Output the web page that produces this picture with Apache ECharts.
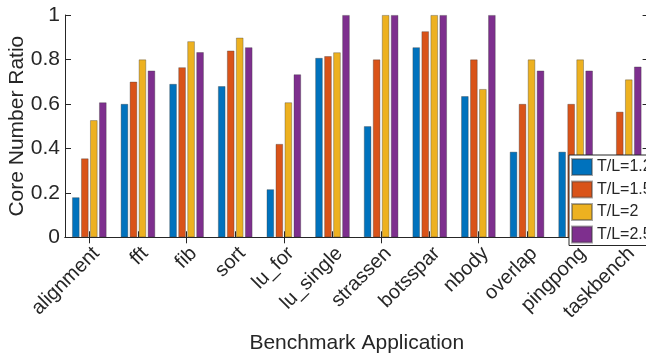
<!DOCTYPE html>
<html>
<head>
<meta charset="utf-8">
<script src="https://cdn.jsdelivr.net/npm/echarts@6/dist/echarts.min.js"></script>
<style>
html,body{margin:0;padding:0;background:#fff;}
#chart{width:646px;height:355px;}
</style>
</head>
<body>
<div id="chart"></div>
<script>
var categories = ['alignment','fft','fib','sort','lu_for','lu_single','strassen','botsspar','nbody','overlap','pingpong','taskbench'];
var seriesNames = ['T/L=1.2','T/L=1.5','T/L=2','T/L=2.5'];
var tl12 = [0.18,0.60,0.69,0.68,0.216,0.807,0.50,0.855,0.635,0.385,0.385,0.33];
var tl15 = [0.355,0.70,0.765,0.84,0.42,0.815,0.80,0.927,0.80,0.60,0.60,0.565];
var tl2  = [0.527,0.80,0.882,0.898,0.607,0.832,1,1,0.667,0.80,0.80,0.71];
var tl25 = [0.607,0.75,0.833,0.855,0.733,1,1,1,1,0.75,0.75,0.768];
var yTicks = [0,0.2,0.4,0.6,0.8,1];
var colors = ['#0072BD','#D95319','#EDB120','#7E2F8E'];

var chart = echarts.init(document.getElementById('chart'), null, {renderer:'canvas'});
var txt = '#262626';
var font = 'Liberation Sans, Arial, Helvetica, sans-serif';
var allData = [tl12, tl15, tl2, tl25];
var series = allData.map(function(d, i){
  return {
    name: seriesNames[i], type: 'bar', data: d,
    barWidth: 7.5, barGap: '20%',
    itemStyle: {color: colors[i], borderColor: 'rgba(60,60,60,0.45)', borderWidth: 0.8},
    emphasis: {disabled: true}
  };
});
chart.setOption({
  animation: false,
  textStyle: {fontFamily: font, color: txt},
  grid: {left: 65, top: 15, width: 583.6, height: 222.3, containLabel: false, outerBoundsMode: 'none'},
  legend: {
    data: seriesNames, orient: 'vertical', left: 569, top: 155,
    backgroundColor: '#fff', borderColor: '#262626', borderWidth: 1,
    padding: [3, 20, 2, 2], itemWidth: 20, itemHeight: 16, itemGap: 4.5,
    icon: 'rect', z: 20,
    textStyle: {fontSize: 16, color: txt, fontFamily: font}
  },
  xAxis: [{
    type: 'category', data: categories, position: 'bottom', boundaryGap: true,
    axisLine: {show: true, lineStyle: {color: txt, width: 1}},
    axisTick: {show: true, inside: true, length: 6, alignWithLabel: true, lineStyle: {color: txt}},
    axisLabel: {interval: 0, rotate: 45, fontSize: 20, color: txt, fontFamily: font, align: 'right', verticalAlign: 'top', margin: 6},
    name: 'Benchmark Application', nameLocation: 'middle', nameGap: 95, nameMoveOverlap: false,
    nameTextStyle: {fontSize: 21, color: txt, fontFamily: font}
  },{
    type: 'category', data: categories, position: 'top', boundaryGap: true,
    axisLine: {show: true, lineStyle: {color: txt, width: 1}},
    axisTick: {show: true, inside: true, length: 6, alignWithLabel: true, lineStyle: {color: txt}},
    axisLabel: {show: false}
  }],
  yAxis: [{
    type: 'value', min: 0, max: 1, interval: 0.2, position: 'left',
    axisLine: {show: true, lineStyle: {color: txt, width: 1}},
    axisTick: {show: true, inside: true, length: 6, lineStyle: {color: txt}},
    splitLine: {show: false},
    axisLabel: {fontSize: 21, color: txt, fontFamily: font, margin: 5,
      formatter: function(v){ for (var k=0;k<yTicks.length;k++){ if (Math.abs(yTicks[k]-v)<1e-9) return String(yTicks[k]); } return ''; }},
    name: 'Core Number Ratio', nameLocation: 'middle', nameGap: 37, nameMoveOverlap: false,
    nameTextStyle: {fontSize: 21, color: txt, fontFamily: font}
  },{
    type: 'value', min: 0, max: 1, interval: 0.2, position: 'right',
    axisLine: {show: true, lineStyle: {color: txt, width: 1}},
    axisTick: {show: true, inside: true, length: 6, lineStyle: {color: txt}},
    splitLine: {show: false}, axisLabel: {show: false}
  }],
  series: series
});
</script>
</body>
</html>
